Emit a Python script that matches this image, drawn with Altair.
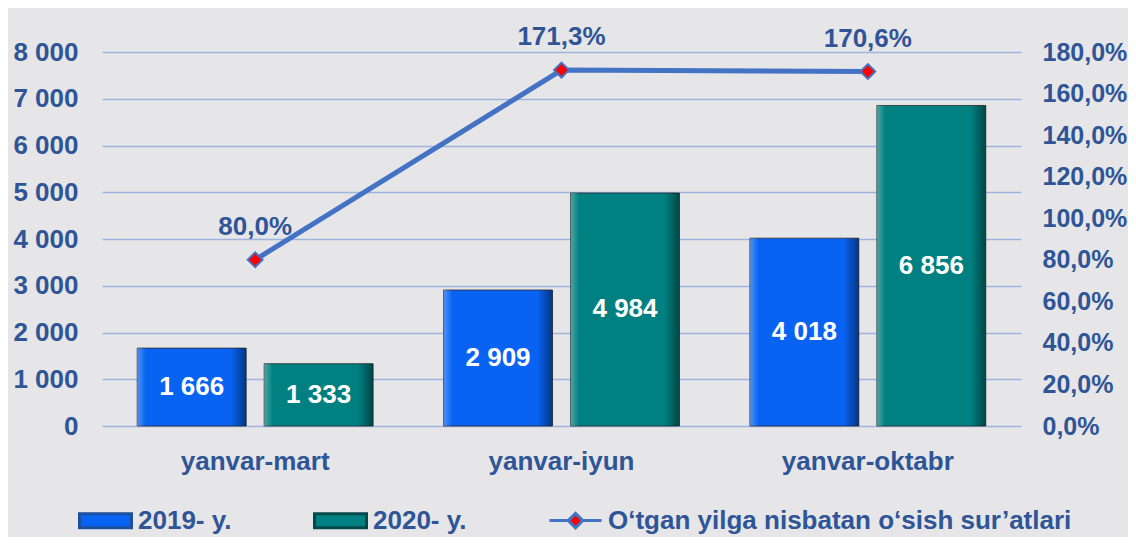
import altair as alt
import pandas as pd

categories = ["yanvar-mart", "yanvar-iyun", "yanvar-oktabr"]
series_names = ["2019- y.", "2020- y."]
values_2019 = [1666, 2909, 4018]
values_2020 = [1333, 4984, 6856]
growth = [80.0, 171.3, 170.6]
line_name = "O‘tgan yilga nisbatan o‘sish sur’atlari"

TEXT = "#2f5597"
FONT = "Liberation Sans"
BLUE = "#0863f2"
TEAL = "#008080"
LINE = "#4472c4"


def fmt_int(v):
    return f"{v:,}".replace(",", " ")


def fmt_pct(v):
    return f"{v:.1f}%".replace(".", ",")


bars_df = pd.DataFrame({
    "cat": categories * 2,
    "series": [series_names[0]] * 3 + [series_names[1]] * 3,
    "value": values_2019 + values_2020,
})
bars_df["label"] = bars_df["value"].map(fmt_int)

line_df = pd.DataFrame({"cat": categories, "growth": growth})
line_df["label"] = line_df["growth"].map(fmt_pct)

legend_df = pd.DataFrame({"series": series_names + [line_name]})
all_names = series_names + [line_name]

x_enc = alt.X(
    "cat:N", sort=categories,
    scale=alt.Scale(paddingInner=0.23, paddingOuter=0.115),
    axis=alt.Axis(title=None, labelAngle=0, domain=False, ticks=False, grid=False,
                  labelPadding=22, labelFontSize=26, labelFont=FONT,
                  labelColor=TEXT, labelFontWeight="bold"),
)
xoff = alt.XOffset("series:N", sort=series_names,
                   scale=alt.Scale(domain=series_names, paddingInner=0.142, paddingOuter=0))

left_scale = alt.Scale(domain=[0, 8000], nice=False)
left_axis = alt.Axis(title=None, values=list(range(0, 8001, 1000)),
                     labelExpr="replace(format(datum.value, ','), ',', ' ')",
                     grid=True, gridColor="#9fb3df", gridWidth=1.5,
                     domain=False, ticks=False, labelPadding=24,
                     labelFont=FONT, labelFontSize=26, labelFontWeight="bold",
                     labelColor=TEXT)

base = alt.Chart(bars_df).encode(x=x_enc, xOffset=xoff)

bars19 = base.transform_filter(alt.datum.series == series_names[0]).mark_bar(
    fill=BLUE, stroke="#2a2a2a", strokeWidth=0.8
).encode(y=alt.Y("value:Q", scale=left_scale, axis=left_axis, title=None))
bars20 = base.transform_filter(alt.datum.series == series_names[1]).mark_bar(
    fill=TEAL, stroke="#2a2a2a", strokeWidth=0.8
).encode(y=alt.Y("value:Q", scale=left_scale, axis=left_axis, title=None))

bevel = base.mark_bar(
    color=alt.Gradient(
        gradient="linear", x1=0, x2=1, y1=0, y2=0,
        stops=[
            alt.GradientStop(color="rgba(255,255,255,0.30)", offset=0),
            alt.GradientStop(color="rgba(255,255,255,0.0)", offset=0.08),
            alt.GradientStop(color="rgba(0,0,0,0.0)", offset=0.86),
            alt.GradientStop(color="rgba(0,0,0,0.45)", offset=1),
        ],
    )
).encode(y=alt.Y("value:Q", scale=left_scale, axis=left_axis, title=None))

bar_text = base.transform_calculate(mid="datum.value / 2").mark_text(
    font=FONT, fontSize=26, fontWeight="bold", color="white", baseline="middle"
).encode(y=alt.Y("mid:Q", scale=left_scale, axis=left_axis, title=None), text="label:N")

left = alt.layer(bars19, bars20, bevel, bar_text)

y_right = alt.Y(
    "growth:Q", scale=alt.Scale(domain=[0, 180], nice=False),
    axis=alt.Axis(title=None, orient="right", values=list(range(0, 181, 20)),
                  labelExpr="replace(format(datum.value, '.1f'), '.', ',') + '%'",
                  grid=False, domain=False, ticks=False, labelPadding=21,
                  labelFont=FONT, labelFontSize=25, labelFontWeight="bold",
                  labelColor=TEXT),
)

lbase = alt.Chart(line_df).encode(x=x_enc, y=y_right)
line = lbase.mark_line(color=LINE, strokeWidth=5)
points = lbase.mark_point(shape="diamond", filled=True, fill="#ff0000",
                          stroke=LINE, strokeWidth=2, size=220, opacity=1)
line_text = lbase.mark_text(font=FONT, fontSize=26, fontWeight="bold",
                            color=TEXT, dy=-33).encode(text="label:N")

right = alt.layer(line, points, line_text)

# legend carrier: no visible marks, only the scales and their legend
legend = alt.Legend(
    title=None, orient="none", direction="horizontal", columns=3,
    legendX=-24, legendY=441,
    labelFont=FONT, labelFontSize=26, labelFontWeight="bold", labelColor=TEXT,
    labelOffset=5, columnPadding=76, symbolSize=2704, labelLimit=700,
    symbolStrokeWidth=3, symbolOpacity=1,
)
bar_path = "M-1,-0.27H1V0.27H-1Z"
line_path = "M-1,0H-0.3M0.3,0H1M0,-0.28L0.28,0L0,0.28L-0.28,0Z"
legend_layer = alt.Chart(legend_df).transform_filter("false").mark_point(
    filled=True, opacity=1
).encode(
    fill=alt.Fill("series:N", scale=alt.Scale(domain=all_names, range=[BLUE, TEAL, "#ff0000"]), legend=legend),
    stroke=alt.Stroke("series:N", scale=alt.Scale(domain=all_names, range=["#1d4f9c", "#024a4a", LINE]), legend=legend),
    shape=alt.Shape("series:N", scale=alt.Scale(domain=all_names, range=[bar_path, bar_path, line_path]), legend=legend),
)

chart = alt.layer(left, right, legend_layer).resolve_scale(y="independent").properties(
    width=919, height=374,
    autosize=alt.AutoSizeParams(type="none"),
    padding={"left": 94, "top": 44, "right": 107, "bottom": 111},
    background="#e6e6e8",
).configure_view(stroke=None)

chart.save("out.html", embed_options={"renderer": "svg", "actions": False})
